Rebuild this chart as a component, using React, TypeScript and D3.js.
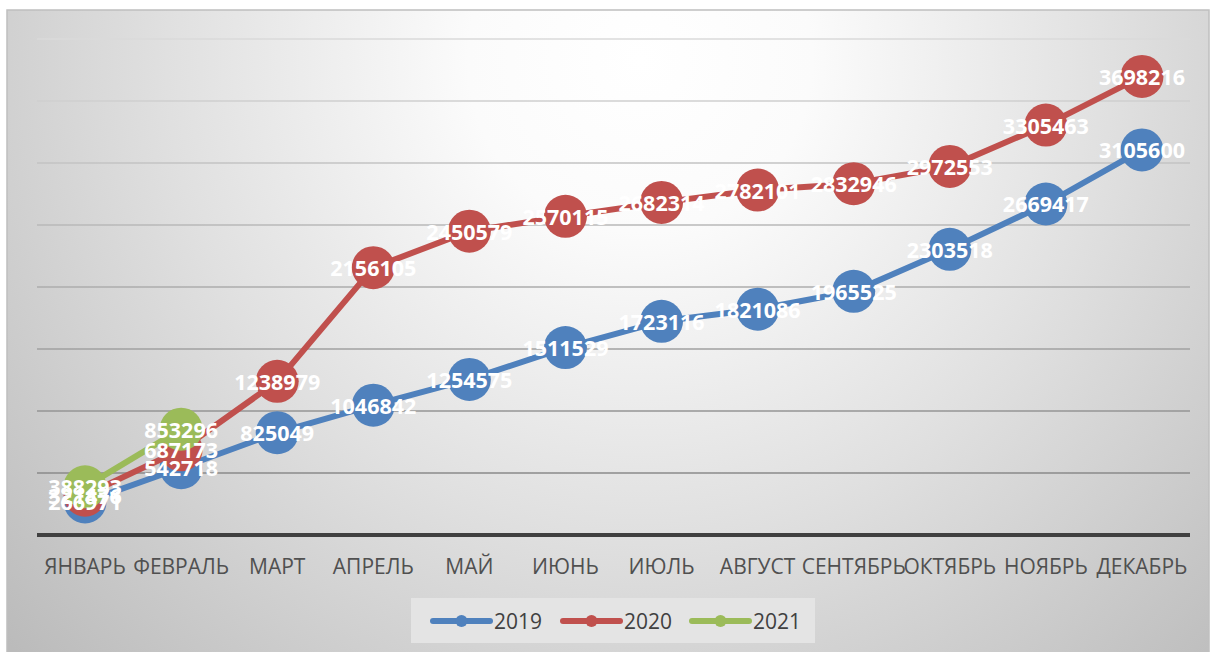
import React from "react";
import * as d3 from "d3";

const months = ["ЯНВАРЬ", "ФЕВРАЛЬ", "МАРТ", "АПРЕЛЬ", "МАЙ", "ИЮНЬ", "ИЮЛЬ", "АВГУСТ", "СЕНТЯБРЬ", "ОКТЯБРЬ", "НОЯБРЬ", "ДЕКАБРЬ"];
const values2019 = [266971, 542718, 825049, 1046842, 1254575, 1511529, 1723116, 1821086, 1965525, 2303518, 2669417, 3105600];
const values2020 = [321476, 687173, 1238979, 2156105, 2450579, 2570115, 2682314, 2782101, 2832946, 2972553, 3305463, 3698216];
const values2021 = [388293, 853296];
const yTicks = [0, 500000, 1000000, 1500000, 2000000, 2500000, 3000000, 3500000, 4000000];

const seriesList = [
  { name: "2019", values: values2019, color: "#4f81bd" },
  { name: "2020", values: values2020, color: "#c0504d" },
  { name: "2021", values: values2021, color: "#9bbb59" },
];

const W = 1212;
const H = 652;
const plotLeft = 37;
const plotRight = 1190;
const plotTop = 39;
const plotBottom = 535;

export default function App() {
  const x = d3.scalePoint<string>().domain(months).range([plotLeft, plotRight]).padding(0.5);
  const y = d3.scaleLinear().domain([0, 4000000]).range([plotBottom, plotTop]);
  const line = d3
    .line<number>()
    .x((_, i) => x(months[i]) as number)
    .y((d) => y(d));
  const gridColor = d3.interpolateRgb("#dadada", "#8a8a8a");

  const legendItems = [
    { x: 433, s: seriesList[0] },
    { x: 563, s: seriesList[1] },
    { x: 692, s: seriesList[2] },
  ];

  return (
    <svg width={W} height={H} style={{ position: "absolute", left: 0, top: 0 }} xmlns="http://www.w3.org/2000/svg">
      <defs>
        <radialGradient id="bg" gradientUnits="userSpaceOnUse" cx={640} cy={60} r={860}>
          <stop offset="0" stopColor="#ffffff" />
          <stop offset="0.2" stopColor="#fbfbfb" />
          <stop offset="0.55" stopColor="#e0e0e0" />
          <stop offset="1" stopColor="#bbbbbb" />
        </radialGradient>
      </defs>
      <rect x={0} y={0} width={W} height={H} fill="#ffffff" />
      <rect x={7} y={10} width={1202} height={660} fill="url(#bg)" stroke="#bfbfbf" strokeWidth={1.5} />

      {yTicks.slice(1).map((t, i) => (
        <line
          key={t}
          x1={plotLeft}
          x2={plotRight}
          y1={y(t)}
          y2={y(t)}
          stroke={gridColor(1 - i / (yTicks.length - 2))}
          strokeWidth={1.5}
        />
      ))}
      <line x1={plotLeft} x2={plotRight} y1={y(0)} y2={y(0)} stroke="#404040" strokeWidth={4} />

      {months.map((m) => (
        <text
          key={m}
          x={x(m) as number}
          y={568}
          textAnchor="middle"
          dominantBaseline="middle"
          fontFamily="'Open Sans', sans-serif"
          fontSize={21}
          fill="#505050"
        >
          {m}
        </text>
      ))}

      {seriesList.map((s) => (
        <g key={s.name}>
          <path d={line(s.values) || ""} fill="none" stroke={s.color} strokeWidth={6} strokeLinejoin="round" strokeLinecap="round" />
          {s.values.map((v, i) => (
            <circle key={i} cx={x(months[i]) as number} cy={y(v)} r={21.5} fill={s.color} />
          ))}
        </g>
      ))}

      {seriesList.map((s) => (
        <g key={s.name + "-labels"}>
          {s.values.map((v, i) => (
            <text
              key={i}
              x={x(months[i]) as number}
              y={y(v)}
              textAnchor="middle"
              dominantBaseline="central"
              fontFamily="'Open Sans', sans-serif"
              fontWeight="bold"
              fontSize={21.5}
              fill="#ffffff"
            >
              {v}
            </text>
          ))}
        </g>
      ))}

      <rect x={411} y={598} width={404} height={45} fill="#e4e4e4" />
      {legendItems.map(({ x: lx, s }) => (
        <g key={s.name}>
          <line x1={lx} x2={lx + 57} y1={621} y2={621} stroke={s.color} strokeWidth={6} strokeLinecap="round" />
          <circle cx={lx + 28.5} cy={621} r={6} fill={s.color} />
          <text
            x={lx + 61}
            y={621}
            dominantBaseline="central"
            fontFamily="'Open Sans', sans-serif"
            fontSize={21}
            fill="#404040"
          >
            {s.name}
          </text>
        </g>
      ))}
    </svg>
  );
}
